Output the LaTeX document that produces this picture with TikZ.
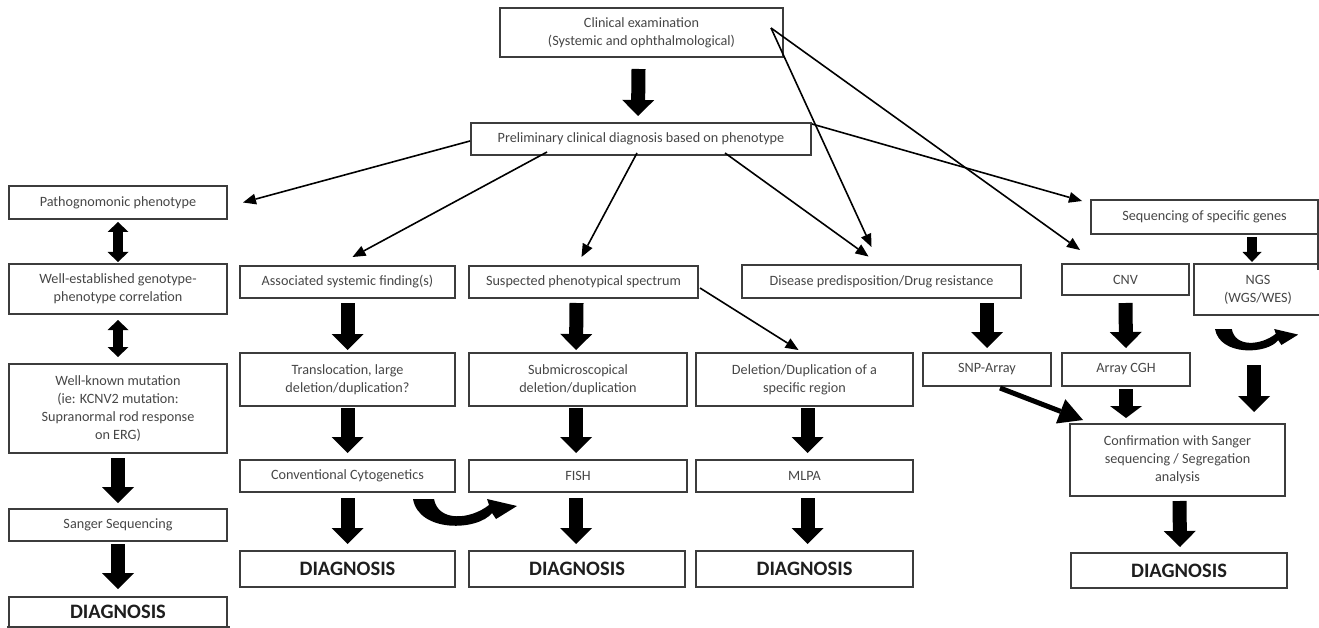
\documentclass[tikz,border=0pt]{standalone}
\usepackage{fontspec}
\setmainfont{Carlito}
\usetikzlibrary{arrows.meta,calc}
\definecolor{boxc}{RGB}{60,60,60}
\definecolor{txtc}{RGB}{70,70,70}
\definecolor{diagc}{RGB}{30,30,30}
\newcommand{\curvyarrow}[2]{%
  \begin{scope}[shift={#1},scale=#2]
    \fill[black] (0,0) -- (21,0) .. controls (25,23) and (57,21) .. (76,6)
      -- (74,0) -- (104,7) -- (83,20) -- (79,14)
      .. controls (65,32) and (6,34) .. (0,0) -- cycle;
  \end{scope}}
\begin{document}
\begin{tikzpicture}[x=1pt,y=-1pt,
  box/.style={draw=boxc,line width=1.5pt,inner sep=0pt,outer sep=0pt,align=center,
    text=txtc,font=\fontsize{14.2}{18}\selectfont},
  diag/.style={box,text=diagc,font=\fontsize{20.5}{23}\selectfont\bfseries},
  big/.style={draw=black,line width=14pt,-{Triangle[length=16pt,width=32pt,line width=0pt]}},
  mid/.style={draw=black,line width=10pt,-{Triangle[length=10pt,width=19pt,line width=0pt]}},
  dbl/.style={draw=black,line width=10pt,{Triangle[length=10pt,width=21pt,line width=0pt]}-{Triangle[length=10pt,width=21pt,line width=0pt]}},
  thin/.style={draw=black,line width=1.6pt,-{Triangle[length=13pt,width=11pt,line width=0pt]}},
  fat/.style={draw=black,line width=5pt,-{Triangle[length=24pt,width=26pt,line width=0pt]}}
]
\useasboundingbox (0,0) rectangle (1319,628);

% top
\node[box,minimum width=283pt,minimum height=49pt] (clin) at (641.5,32.5) {Clinical examination\\(Systemic and ophthalmological)};
\node[box,minimum width=340pt,minimum height=32pt] (prelim) at (641,139) {Preliminary clinical diagnosis based on phenotype};

% left column
\node[box,minimum width=218pt,minimum height=33pt] (patho) at (118,202.5) {Pathognomonic phenotype};
\node[box,minimum width=218pt,minimum height=50pt] (wellest) at (118,289) {Well-established genotype-\\phenotype correlation};
\node[box,minimum width=218pt,minimum height=89pt] (wellknown) at (118,408.5) {Well-known mutation\\(ie: KCNV2 mutation:\\Supranormal rod response\\on ERG)};
\node[box,minimum width=218pt,minimum height=32pt] (sanger) at (118,525) {Sanger Sequencing};
\node[diag,minimum width=218pt,minimum height=30pt] (diagL) at (118,612) {DIAGNOSIS};

% column 2
\node[box,minimum width=215pt,minimum height=32pt] (assoc) at (347.5,282) {Associated systemic finding(s)};
\node[box,minimum width=215pt,minimum height=53pt] (transl) at (347.5,379.5) {Translocation, large\\deletion/duplication?};
\node[box,minimum width=215pt,minimum height=32pt] (conv) at (347.5,476) {Conventional Cytogenetics};
\node[diag,minimum width=215pt,minimum height=36pt] (diag1) at (347.5,569) {DIAGNOSIS};

% column 3
\node[box,minimum width=229pt,minimum height=32pt] (susp) at (583.5,282) {Suspected phenotypical spectrum};
\node[box,minimum width=218pt,minimum height=53pt] (submicro) at (578,379.5) {Submicroscopical\\deletion/duplication};
\node[box,minimum width=218pt,minimum height=32pt] (fish) at (578,476) {FISH};
\node[diag,minimum width=216pt,minimum height=36pt] (diag2) at (577,569) {DIAGNOSIS};

% column 4
\node[box,minimum width=217pt,minimum height=53pt] (deldup) at (804.5,379.5) {Deletion/Duplication of a\\specific region};
\node[box,minimum width=217pt,minimum height=32pt] (mlpa) at (804.5,476) {MLPA};
\node[diag,minimum width=217pt,minimum height=36pt] (diag3) at (804.5,569) {DIAGNOSIS};

% right part
\node[box,minimum width=279pt,minimum height=33pt] (disease) at (881.5,281.5) {Disease predisposition/Drug resistance};
\node[box,minimum width=128pt,minimum height=33pt] (snp) at (987,369.5) {SNP-Array};
\node[box,minimum width=127pt,minimum height=31pt] (cnv) at (1125.5,279.5) {CNV};
\node[box,minimum width=128pt,minimum height=33pt] (cgh) at (1126,369.5) {Array CGH};
\node[box,minimum width=227pt,minimum height=34pt] (seq) at (1204.5,217) {Sequencing of specific genes};
\node[box,draw=none,minimum width=128pt,minimum height=51pt] (ngs) at (1258,289.5) {NGS\\(WGS/WES)};
\draw[draw=boxc,line width=1.5pt] ($(ngs.north east)+(2,0)$) -- (ngs.north west) -- (ngs.south west) -- ($(ngs.south east)+(2,0)$);
\draw[draw=boxc,line width=1.5pt] (seq.south east) -- ($(seq.south east)+(0,36)$);
\node[box,minimum width=215pt,minimum height=72pt] (confirm) at (1177.5,460) {Confirmation with Sanger\\sequencing / Segregation\\analysis};
\node[diag,minimum width=216pt,minimum height=35pt] (diag4) at (1179,570.5) {DIAGNOSIS};

\draw[draw=boxc,line width=1.5pt] ($(diagL.south west)+(-2,0)$) -- ($(diagL.south east)+(3,0)$);

% block arrows
\draw[big] ($(clin.south)+(-3,12)$) -- ($(prelim.north)+(-3,-7)$);
\draw[dbl] ($(patho.south)+(0,3)$) -- ($(wellest.north)+(0,-2)$);
\draw[dbl] ($(wellest.south)+(0,6)$) -- ($(wellknown.north)+(0,-7)$);
\draw[big] ($(wellknown.south)+(0,5)$) -- ($(sanger.north)+(0,-6)$);
\draw[big] ($(sanger.south)+(0,3)$) -- ($(diagL.north)+(0,-8)$);
\draw[big] ($(assoc.south)+(0,5)$) -- ($(transl.north)+(0,-3)$);
\draw[big] ($(transl.south)+(0,2)$) -- ($(conv.north)+(0,-7)$);
\draw[big] ($(conv.south)+(0,6)$) -- ($(diag1.north)+(0,-7)$);
\draw[big] ($(susp.south)+(-7,5)$) -- ($(submicro.north)+(-2,-3)$);
\draw[big] ($(submicro.south)+(-2,2)$) -- ($(fish.north)+(-2,-7)$);
\draw[big] ($(fish.south)+(-2,6)$) -- ($(diag2.north)+(-1,-7)$);
\draw[big] ($(deldup.south)+(3,2)$) -- ($(mlpa.north)+(3,-7)$);
\draw[big] ($(mlpa.south)+(3,6)$) -- ($(diag3.north)+(3,-7)$);
\draw[big] (disease.south -| snp.north) ++(0,5) -- ($(snp.north)+(0,-5)$);
\draw[big] ($(cnv.south)+(0,8)$) -- ($(cgh.north)+(0,-5)$);
\draw[big,-{Triangle[length=12pt,width=32pt,line width=0pt]}] ($(cgh.south)+(0,3)$) -- (cgh.south |- {$(confirm.north)+(0,-6)$});
\draw[big] ($(confirm.south)+(2,5)$) -- ($(diag4.north)+(1,-6)$);
\draw[mid] ($(seq.south)+(47.5,3)$) -- ($(ngs.north)+(-6,-2)$);
\coordinate (ngsdown) at ($(ngs.south)+(-4,50)$);
\draw[big] (ngsdown) -- (ngsdown |- {$(confirm.north)+(0,-12)$});

% curved arrows
\curvyarrow{(413,499)}{1}
\curvyarrow{(1215,329)}{0.8}

% thin arrows
\coordinate (cx) at ($(clin.east)+(-12,-4.5)$);
\draw[thin] ($(prelim.west)+(-1,2)$) -- ($(patho.east)+(16,0)$);
\draw[thin] ($(prelim.south west)+(76,-3)$) -- ($(assoc.north)+(5,-9)$);
\draw[thin] ($(prelim.south)+(-4,-2)$) -- ($(susp.north)+(-2,-9)$);
\draw[thin] ($(prelim.south east)+(-86,-2)$) -- ($(disease.north)+(-13,-8.5)$);
\draw[thin] ($(prelim.north east)+(1,1)$) -- ($(seq.north west)+(-9,1)$);
\draw[thin] (cx) -- ($(disease.north)+(-10,-18)$);
\draw[thin] (cx) -- ($(cnv.north west)+(18,-14)$);
\draw[thin] ($(susp.east)+(2,6)$) -- ($(deldup.north)+(-6,-3)$);
\draw[fat] ($(snp.south)+(13,2)$) -- ($(confirm.north west)+(13,-4)$);
\end{tikzpicture}
\end{document}
